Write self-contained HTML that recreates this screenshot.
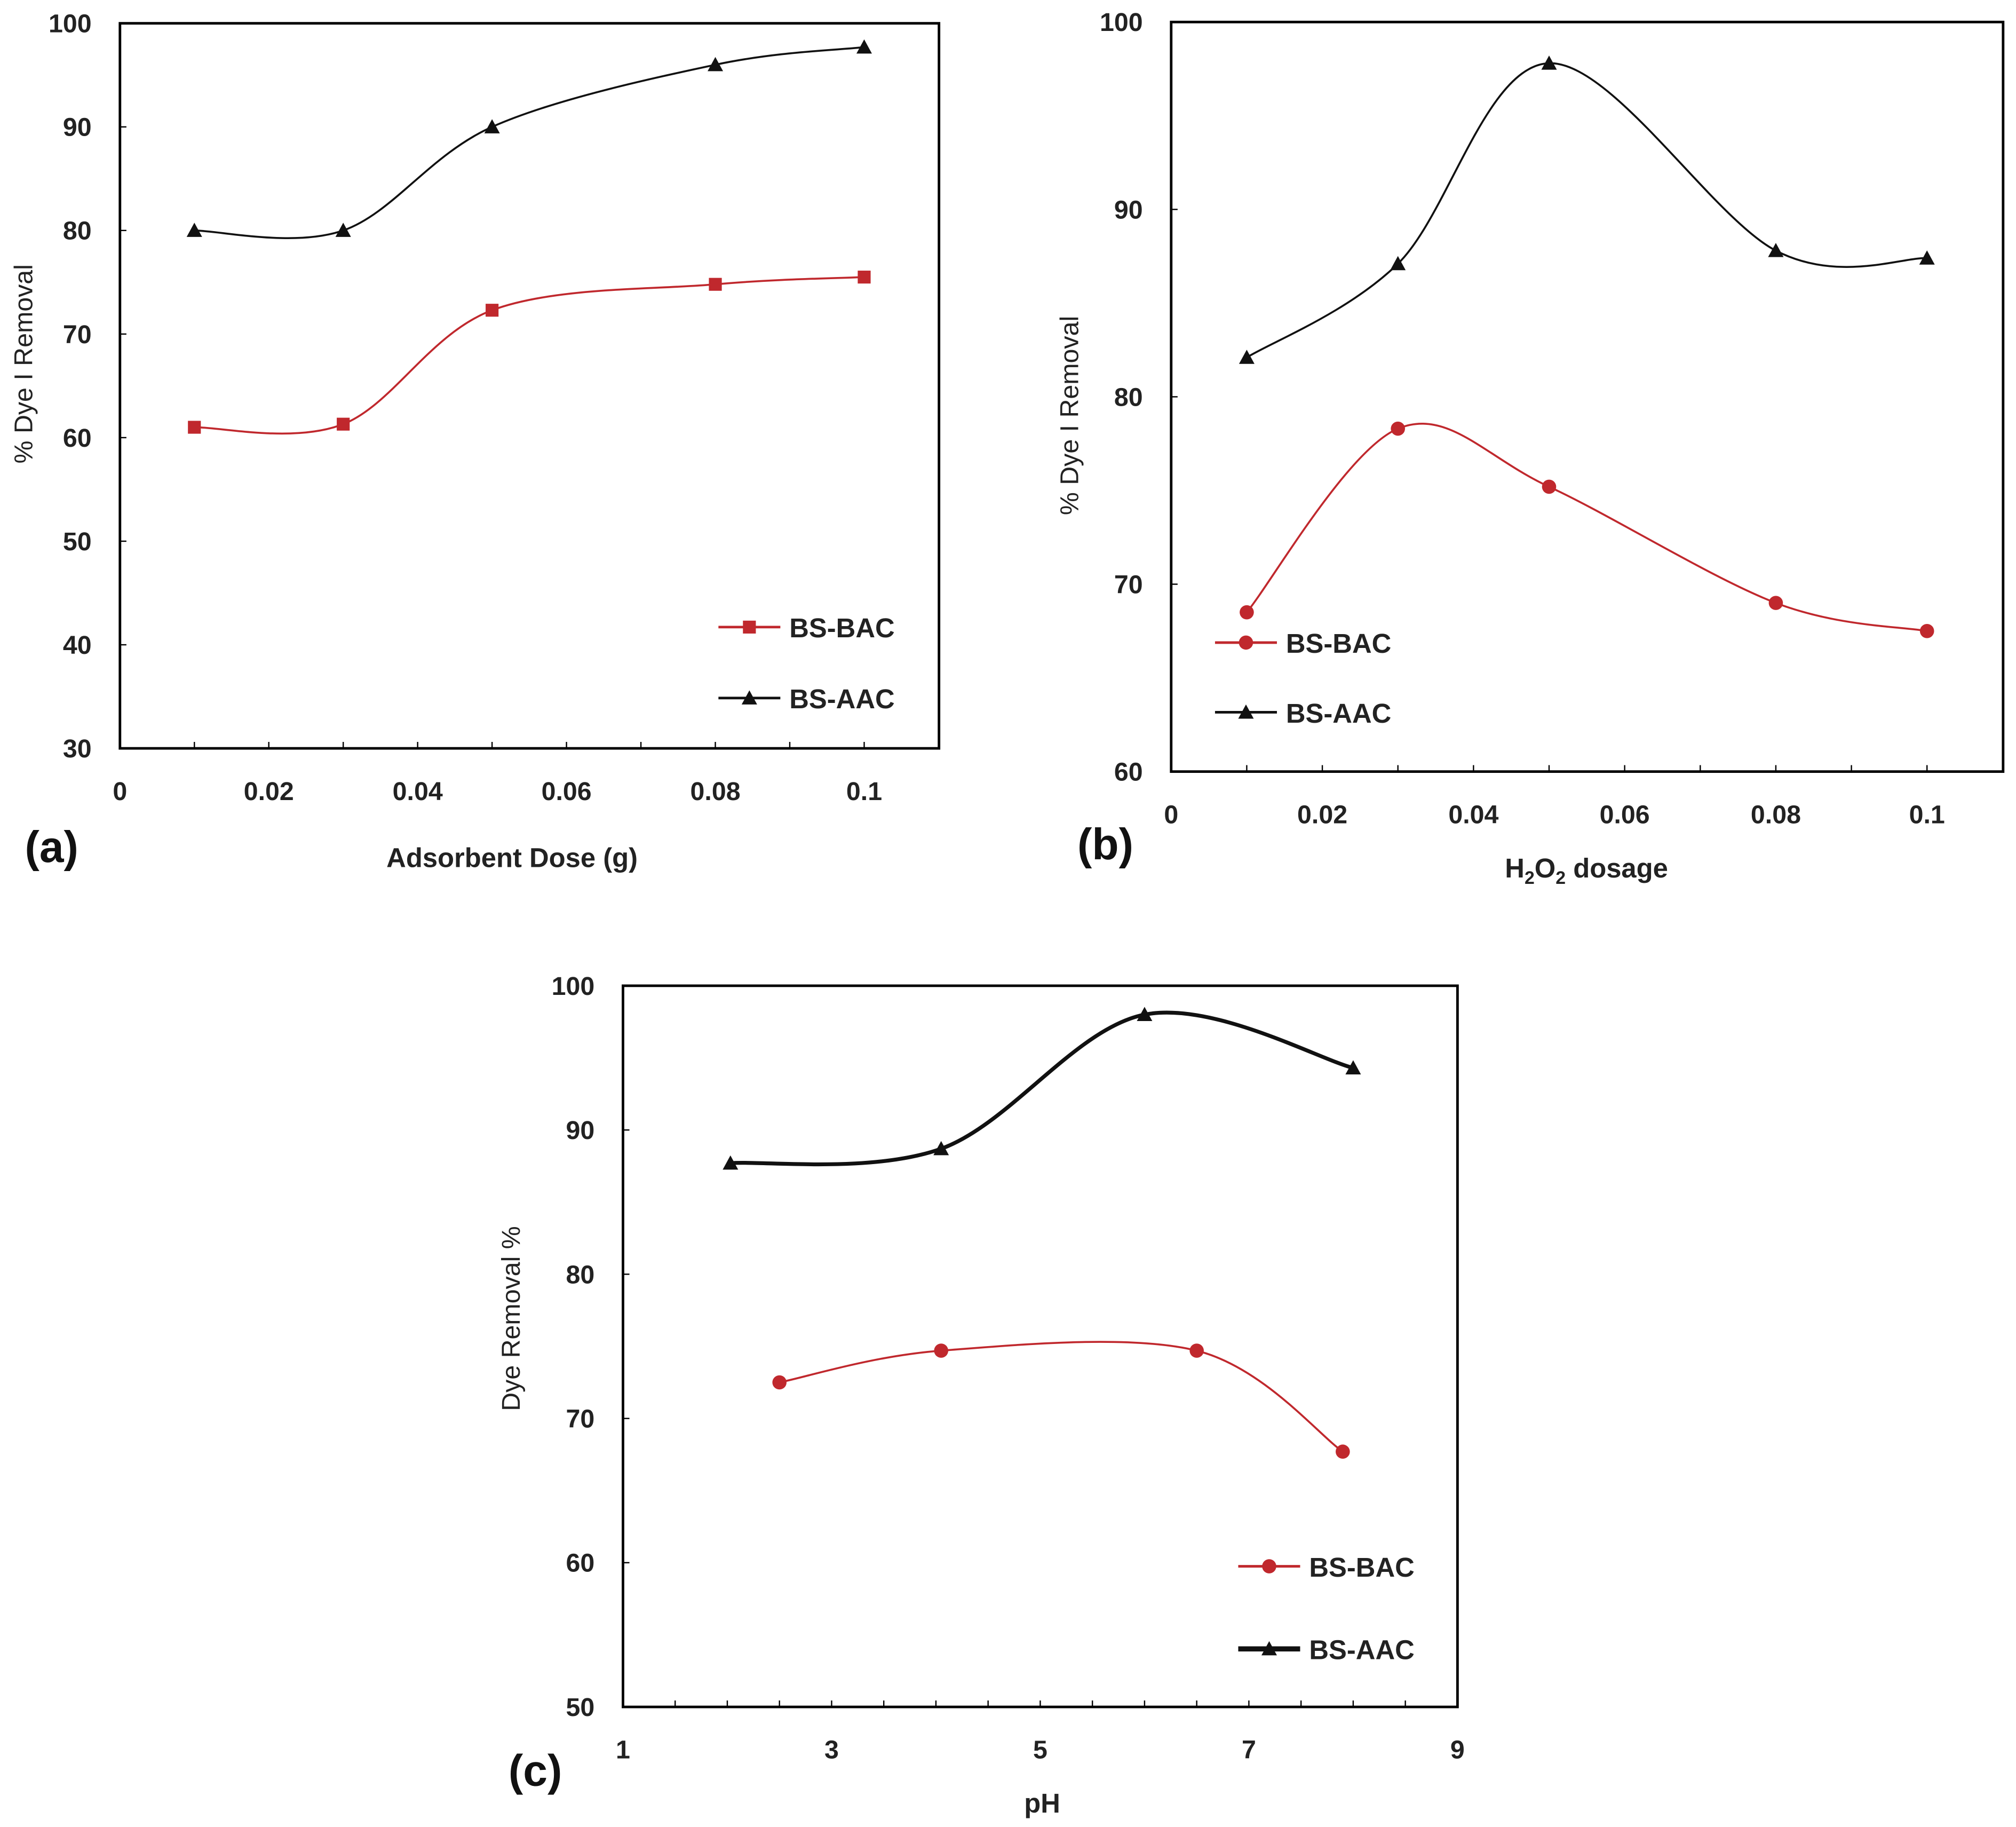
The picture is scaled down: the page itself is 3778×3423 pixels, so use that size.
<!DOCTYPE html>
<html><head><meta charset="utf-8"><style>
html,body{margin:0;padding:0;background:#fff;}
svg{display:block;}
text{font-family:"Liberation Sans",sans-serif;}
</style></head><body>
<svg id="chart" width="3778" height="3423" viewBox="0 0 1563 1416" xmlns="http://www.w3.org/2000/svg"></svg>
<script>
// Panel (a) data
const aX = [0.01, 0.03, 0.05, 0.08, 0.1];
const aBAC = [61, 61.3, 72.3, 74.8, 75.5];
const aAAC = [80, 80, 90, 96, 97.7];
const aXTicks = [0, 0.02, 0.04, 0.06, 0.08, 0.1];
const aXTickLabels = ["0","0.02","0.04","0.06","0.08","0.1"];
const aYTicks = [30,40,50,60,70,80,90,100];
// Panel (b) data
const bX = [0.01, 0.03, 0.05, 0.08, 0.1];
const bBAC = [68.5, 78.3, 75.2, 69, 67.5];
const bAAC = [82.1, 87.1, 97.8, 87.8, 87.4];
const bXTicks = [0, 0.02, 0.04, 0.06, 0.08, 0.1];
const bXTickLabels = ["0","0.02","0.04","0.06","0.08","0.1"];
const bYTicks = [60,70,80,90,100];
// Panel (c) data
const cXBAC = [2.5, 4.05, 6.5, 7.9];
const cBAC = [72.5, 74.7, 74.7, 67.7];
const cXAAC = [2.03, 4.05, 6.0, 8.0];
const cAAC = [87.7, 88.7, 98, 94.3];
const cXTicks = [1,3,5,7,9];
const cXTickLabels = ["1","3","5","7","9"];
const cYTicks = [50,60,70,80,90,100];

const svg = document.getElementById('chart');
const NS = 'http://www.w3.org/2000/svg';
function mk(tag, attrs, parent){
  const e = document.createElementNS(NS, tag);
  for (const k in attrs) e.setAttribute(k, attrs[k]);
  (parent||svg).appendChild(e);
  return e;
}
function smooth(pts){
  let d = `M${pts[0][0]},${pts[0][1]}`;
  for (let i=0;i<pts.length-1;i++){
    const p0=pts[i-1]||pts[i], p1=pts[i], p2=pts[i+1], p3=pts[i+2]||p2;
    const t=0.5/3*1.0;
    const c1=[p1[0]+(p2[0]-p0[0])*t, p1[1]+(p2[1]-p0[1])*t];
    const c2=[p2[0]-(p3[0]-p1[0])*t, p2[1]-(p3[1]-p1[1])*t];
    d += ` C${c1[0]},${c1[1]} ${c2[0]},${c2[1]} ${p2[0]},${p2[1]}`;
  }
  return d;
}
function marker(g, type, x, y, color){
  let m;
  if (type==='square') m = mk('rect',{x:x-5,y:y-5,width:10,height:10,fill:color},g);
  else if (type==='circle') m = mk('circle',{cx:x,cy:y,r:5.5,fill:color},g);
  else m = mk('polygon',{points:`${x},${y-6} ${x+6},${y+5} ${x-6},${y+5}`,fill:color},g);
  return m;
}
function panel(cfg){
  const g = mk('g',{});
  
  
  const sx = v => cfg.x0 + (v-cfg.xmin)/(cfg.xmax-cfg.xmin)*(cfg.x1-cfg.x0);
  const sy = v => cfg.y1 - (v-cfg.ymin)/(cfg.ymax-cfg.ymin)*(cfg.y1-cfg.y0);
  const box = mk('rect',{x:cfg.L,y:cfg.y0,width:cfg.R-cfg.L,height:cfg.y1-cfg.y0,fill:'none',stroke:'#000','stroke-width':2},g);
  
  
  // minor ticks on x
  for (let v=cfg.xmin; sx(v)<=cfg.R+0.1; v+=cfg.minor){
    mk('line',{x1:sx(v),x2:sx(v),y1:cfg.y1,y2:cfg.y1-5,stroke:'#000','stroke-width':1},g);
  }
  cfg.xt.forEach((v,i)=>{
    const t = mk('text',{x:sx(v),y:cfg.y1+40,'text-anchor':'middle','font-size':20,'font-weight':'bold',fill:'#222'},g);
    t.textContent = cfg.xtl[i];
    
    
  });
  cfg.yt.forEach(v=>{
    mk('line',{x1:cfg.L,x2:cfg.L+5,y1:sy(v),y2:sy(v),stroke:'#000','stroke-width':1},g);
    const t = mk('text',{x:cfg.L-22,y:sy(v)+7,'text-anchor':'end','font-size':20,'font-weight':'bold',fill:'#222'},g);
    t.textContent = v;
    
    
  });
  cfg.series.forEach(s=>{
    const pts = s.xs.map((x,i)=>[sx(x), sy(s.ys[i])]);
    const p = mk('path',{d:smooth(pts),fill:'none',stroke:s.color,'stroke-width':s.w},g);
    
    
    pts.forEach(pt=>{
      const m = marker(g, s.marker, pt[0], pt[1], s.color);
      
      
    });
  });
  cfg.legend.forEach(l=>{
    const lg = mk('g',{},g);
    
    
    mk('line',{x1:l.x,x2:l.x+48,y1:l.y,y2:l.y,stroke:l.color,'stroke-width':l.w},lg);
    marker(lg,l.marker,l.x+24,l.y,l.color);
    const t = mk('text',{x:l.x+55,y:l.y+8,'font-size':21,'font-weight':'bold',fill:'#222'},lg);
    t.textContent = l.label;
  });
  const yt = mk('text',{x:0,y:0,'text-anchor':'middle','font-size':20,fill:'#222',transform:`translate(${cfg.ytx},${cfg.yty}) rotate(-90)`},g);
  yt.textContent = cfg.ytitle;
  
  
  const xt = mk('text',{x:cfg.xtx,y:cfg.xty,'text-anchor':'middle','font-size':21,'font-weight':'bold',fill:'#222'},g);
  xt.innerHTML = cfg.xtitle;
  
  
  const pl = mk('text',{x:cfg.plx,y:cfg.ply,'text-anchor':'middle','font-size':34,'font-weight':'bold',fill:'#111'},g);
  pl.textContent = cfg.plabel;
  
  
}
panel({name:'panel-a',L:93,R:728,x0:93,x1:670,xmin:0,xmax:0.1,y0:18,y1:580,ymin:30,ymax:100,minor:0.01,
  xt:aXTicks,xtl:aXTickLabels,yt:aYTicks,
  series:[{name:'bs-bac',xs:aX,ys:aBAC,color:'#c0282d',marker:'square',w:1.5},
          {name:'bs-aac',xs:aX,ys:aAAC,color:'#111',marker:'tri',w:1.5}],
  legend:[{x:557,y:486,color:'#c0282d',marker:'square',w:2,label:'BS-BAC'},
          {x:557,y:541,color:'#111',marker:'tri',w:2,label:'BS-AAC'}],
  ytitle:'% Dye I Removal',ytx:25,yty:282,xtitle:'Adsorbent Dose (g)',xtx:397,xty:672,plabel:'(a)',plx:40,ply:668});
panel({name:'panel-b',L:908,R:1553,x0:908,x1:1494,xmin:0,xmax:0.1,y0:17,y1:598,ymin:60,ymax:100,minor:0.01,
  xt:bXTicks,xtl:bXTickLabels,yt:bYTicks,
  series:[{name:'bs-bac',xs:bX,ys:bBAC,color:'#c0282d',marker:'circle',w:1.5},
          {name:'bs-aac',xs:bX,ys:bAAC,color:'#111',marker:'tri',w:1.5}],
  legend:[{x:942,y:498,color:'#c0282d',marker:'circle',w:2,label:'BS-BAC'},
          {x:942,y:552,color:'#111',marker:'tri',w:2,label:'BS-AAC'}],
  ytitle:'% Dye I Removal',ytx:836,yty:322,xtitle:'H<tspan font-size="14" dy="5">2</tspan><tspan dy="-5">O</tspan><tspan font-size="14" dy="5">2</tspan><tspan dy="-5"> dosage</tspan>',xtx:1230,xty:680,plabel:'(b)',plx:857,ply:666});
panel({name:'panel-c',L:483,R:1130,x0:483,x1:1130,xmin:1,xmax:9,y0:764,y1:1323,ymin:50,ymax:100,minor:0.5,
  xt:cXTicks,xtl:cXTickLabels,yt:cYTicks,
  series:[{name:'bs-bac',xs:cXBAC,ys:cBAC,color:'#c0282d',marker:'circle',w:1.5},
          {name:'bs-aac',xs:cXAAC,ys:cAAC,color:'#111',marker:'tri',w:3}],
  legend:[{x:960,y:1214,color:'#c0282d',marker:'circle',w:2,label:'BS-BAC'},
          {x:960,y:1278,color:'#111',marker:'tri',w:4,label:'BS-AAC'}],
  ytitle:'Dye Removal %',ytx:403,yty:1022,xtitle:'pH',xtx:808,xty:1405,plabel:'(c)',plx:415,ply:1384});
</script>
</body></html>
